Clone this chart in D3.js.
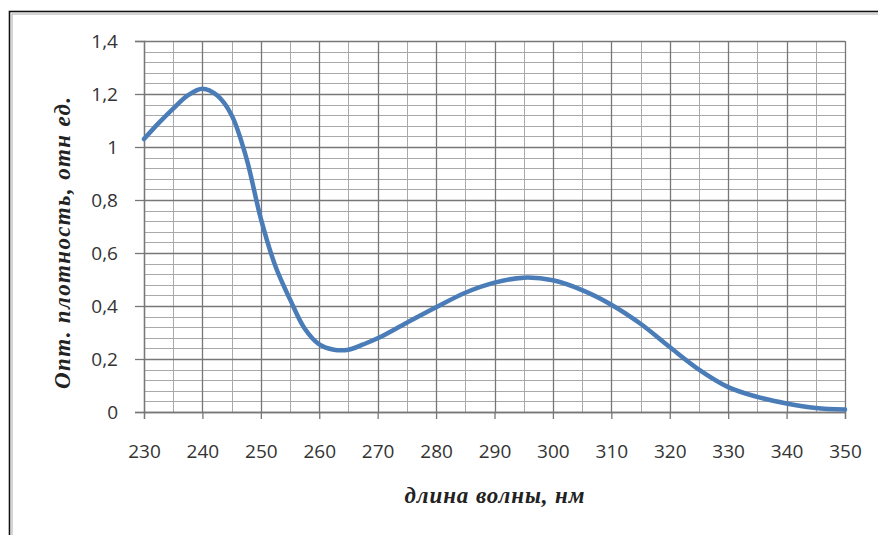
<!DOCTYPE html>
<html>
<head>
<meta charset="utf-8">
<script src="https://cdn.jsdelivr.net/npm/d3@7"></script>
<style>
  body { margin: 0; background: #fff; overflow: hidden; }
  svg { display: block; }
</style>
</head>
<body>
<div id="chart"></div>
<script>
// wavelength, nm
const wavelength = [230, 232.5, 235, 237.5, 240, 242.5, 245, 247.5, 250, 252.5, 255, 257.5, 260, 262.5,
  265, 267.5, 270, 275, 280, 285, 290, 295, 300, 305, 310, 315, 320, 325, 330, 335, 340, 345, 350];
// optical density, rel. units
const density = [1.03, 1.09, 1.145, 1.195, 1.22, 1.195, 1.12, 0.96, 0.73, 0.55, 0.425, 0.315, 0.255, 0.235,
  0.235, 0.255, 0.278, 0.337, 0.395, 0.45, 0.488, 0.507, 0.497, 0.46, 0.405, 0.333, 0.245, 0.16, 0.094, 0.057, 0.032, 0.015, 0.009];

const xTicks = [230, 240, 250, 260, 270, 280, 290, 300, 310, 320, 330, 340, 350];
const yTicks = [0, 0.2, 0.4, 0.6, 0.8, 1, 1.2, 1.4];
const xTitle = "длина волны, нм";
const yTitle = "Опт. плотность, отн ед.";

const W = 878, H = 535;
const margin = { top: 41, right: 33, bottom: 123, left: 144 };
const width = W - margin.left - margin.right,
      height = H - margin.top - margin.bottom;

const svg = d3.select("#chart").append("svg")
  .attr("width", W)
  .attr("height", H)
  .style("overflow", "hidden");

// outer frame (cut off at right and bottom)
svg.append("rect")
  .attr("x", 9.5).attr("y", 11.5)
  .attr("width", W + 20).attr("height", H + 20)
  .attr("fill", "none").attr("stroke", "#111").attr("stroke-width", 1.6);
svg.append("rect")
  .attr("x", 12).attr("y", 14)
  .attr("width", W + 20).attr("height", H + 20)
  .attr("fill", "none").attr("stroke", "#aaa").attr("stroke-width", 1);

const g = svg.append("g")
  .attr("transform", "translate(" + margin.left + "," + margin.top + ")");

const x = d3.scaleLinear().domain([230, 350]).range([0, width]);
const y = d3.scaleLinear().domain([0, 1.4]).range([height, 0]);

// minor grid
const xMinor = d3.range(235, 350, 10);
const yMinor = d3.range(0, 36).map(i => i * 0.04).filter(v => v < 1.39 && Math.abs(v / 0.2 - Math.round(v / 0.2)) > 1e-6);

g.selectAll(".ygrid-minor").data(yMinor).enter().append("line")
  .attr("x1", 0).attr("x2", width)
  .attr("y1", d => Math.round(y(d)) + 0.5).attr("y2", d => Math.round(y(d)) + 0.5)
  .attr("stroke", "#a9a9a9").attr("stroke-width", 1);
g.selectAll(".xgrid-minor").data(xMinor).enter().append("line")
  .attr("y1", 0).attr("y2", height)
  .attr("x1", d => Math.round(x(d)) + 0.5).attr("x2", d => Math.round(x(d)) + 0.5)
  .attr("stroke", "#a9a9a9").attr("stroke-width", 1);

// major grid
g.selectAll(".ygrid").data(yTicks).enter().append("line")
  .attr("x1", 0).attr("x2", width)
  .attr("y1", d => Math.round(y(d)) + 0.5).attr("y2", d => Math.round(y(d)) + 0.5)
  .attr("stroke", "#777").attr("stroke-width", 1.3);
g.selectAll(".xgrid").data(xTicks).enter().append("line")
  .attr("y1", 0).attr("y2", height)
  .attr("x1", d => Math.round(x(d)) + 0.5).attr("x2", d => Math.round(x(d)) + 0.5)
  .attr("stroke", "#777").attr("stroke-width", 1.3);

const fmt = d => d3.format("")(+d.toFixed(1)).replace(".", ",");

// axes
const xAxis = g.append("g")
  .attr("transform", "translate(0," + height + ")")
  .call(d3.axisBottom(x).tickValues(xTicks).tickSize(7).tickPadding(26).tickFormat(d3.format("d")));
const yAxis = g.append("g")
  .call(d3.axisLeft(y).tickValues(yTicks).tickSize(9).tickPadding(17).tickFormat(fmt));

[xAxis, yAxis].forEach(a => {
  a.select(".domain").attr("stroke", "#777").attr("stroke-width", 1.3);
  a.selectAll(".tick line").attr("stroke", "#777").attr("stroke-width", 1.3);
  a.selectAll("text")
    .attr("fill", "#333")
    .style("font-family", "'Open Sans', sans-serif")
    .style("font-size", "19px");
});

// curve
g.append("path")
  .datum(wavelength.map((w, i) => ({ w: w, v: density[i] })))
  .attr("fill", "none")
  .attr("stroke", "#4a7cb8")
  .attr("stroke-width", 4.5)
  .attr("stroke-linecap", "round")
  .attr("d", d3.line()
    .x(d => x(d.w))
    .y(d => y(d.v))
    .curve(d3.curveCatmullRom));

// axis titles
svg.append("text")
  .attr("x", margin.left + width / 2)
  .attr("y", 503)
  .attr("text-anchor", "middle")
  .attr("textLength", 180)
  .attr("lengthAdjust", "spacing")
  .style("font-family", "'Liberation Serif', serif")
  .style("font-weight", "bold")
  .style("font-style", "italic")
  .style("font-size", "23px")
  .attr("fill", "#222")
  .text(xTitle);

svg.append("text")
  .attr("transform", "translate(70," + 243 + ") rotate(-90)")
  .attr("text-anchor", "middle")
  .attr("textLength", 292)
  .attr("lengthAdjust", "spacing")
  .style("font-family", "'Liberation Serif', serif")
  .style("font-weight", "bold")
  .style("font-style", "italic")
  .style("font-size", "23px")
  .attr("fill", "#222")
  .text(yTitle);
</script>
</body>
</html>
